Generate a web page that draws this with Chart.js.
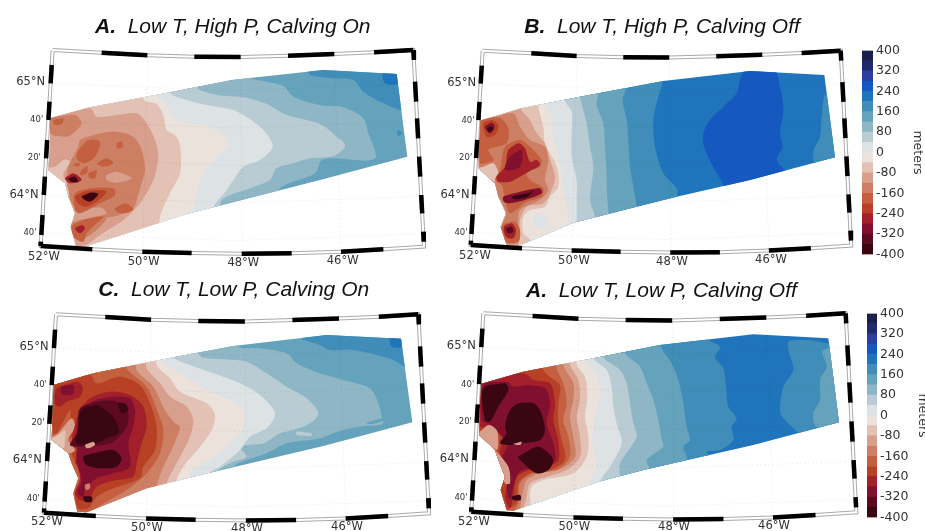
<!DOCTYPE html>
<html>
<head>
<meta charset="utf-8">
<script src="https://cdn.jsdelivr.net/npm/chart.js@4"></script>
<style>
  html, body { margin: 0; padding: 0; background: #fff; overflow: hidden; }
  body { width: 925px; height: 531px; position: relative; }
  canvas { position: absolute; filter: blur(0.5px); }
</style>
</head>
<body>
<canvas id="mapA" width="440" height="270" style="left:0;top:0"></canvas>
<canvas id="mapB" width="495" height="270" style="left:430px;top:0"></canvas>
<canvas id="mapC" width="440" height="261" style="left:0;top:270px"></canvas>
<canvas id="mapD" width="495" height="261" style="left:430px;top:270px"></canvas>
<canvas id="barTop" width="67" height="225" style="left:858px;top:40px"></canvas>
<canvas id="barBottom" width="67" height="225" style="left:863px;top:303px"></canvas>
<script>
// colour classes of the elevation change, 40 m wide, named by lower bound
var levelBounds = [-400, -360, -320, -280, -240, -200, -160, -120, -80, -40, 0, 40, 80, 120, 160, 200, 240, 280, 320, 360];
var levelColors = ['#3a0612', '#5c0a20', '#80102e', '#a3202b', '#b84125', '#c4603f', '#cd7f64', '#d8a08c', '#e3c1b4', '#ece2dc',
    '#dde2e5', '#b9ccd4', '#8fb6c5', '#65a3bd', '#3f8db8', '#1f74bb', '#1458c0', '#2a3f9e', '#1f2a6b', '#1a1f4d'];
var colorTicks = [-400, -320, -240, -160, -80, 0, 80, 160, 240, 320, 400];

var lonLabels = ['52°W', '50°W', '48°W', '46°W'];
var latLabels = ['65°N', "40'", "20'", '64°N', "40'"];

// closes a contour that runs from the north edge to the south edge around the west side
function west(p) {
    var lx = p[p.length - 2], ly = p[p.length - 1];
    return [p[0], 0, p[0], p[1] - 50].concat(p, [lx, ly + 50, lx, 900, 0, 900, 0, 0]);
}

// map units are a third of a km, measured from the panel corner
var domainA = [150,355, 270,322, 510,277, 695,240, 970,210, 1190,222, 1222,470, 960,540, 640,622, 560,642, 250,742, 228,738, 212,680, 225,640, 205,590, 195,550, 145,510, 150,430];
var layersA = [
    [120, [0,0, 1400,0, 1400,900, 0,900]],
    [160, [925,205, 1200,205, 1230,335, 1205,332, 1150,310, 1090,275, 1060,240, 1000,235, 930,225]],
    [160, [1192,390, 1207,398, 1195,408]],
    [200, [1150,215, 1195,215, 1198,250, 1155,250]],
    [80, west([745,230, 800,245, 850,258, 880,290, 960,315, 1030,322, 1090,355, 1105,400, 1128,470, 1100,482, 1010,475, 965,480, 945,520, 840,565])],
    [40, west([590,262, 650,285, 730,292, 800,312, 860,345, 960,372, 1010,410, 1036,437, 1000,468, 930,475, 880,490, 830,505, 810,540, 750,565, 665,600])],
    [0, west([508,278, 560,300, 620,315, 700,330, 750,358, 795,395, 818,440, 780,480, 730,500, 700,540, 680,570, 640,622])],
    [-40, west([470,285, 500,315, 520,350, 540,365, 610,375, 660,400, 685,430, 650,470, 620,500, 600,540, 580,625, 560,645])],
    [-80, west([432,300, 470,312, 490,345, 500,390, 530,410, 542,450, 540,520, 510,580, 480,650])],
    [-120, [100,340, 270,325, 290,350, 350,345, 410,340, 440,370, 465,420, 475,470, 460,540, 420,610, 370,660, 300,705, 255,735, 100,745]],
    [-80, [140,505, 165,500, 195,478, 210,485, 190,525, 215,570, 200,600, 222,640, 205,640, 190,560]],
    [-160, [240,420, 300,400, 350,395, 400,410, 425,450, 435,510, 425,550, 410,600, 400,625, 340,650, 285,650, 240,635, 215,610, 205,570, 200,545, 205,500, 235,440]],
    [-160, [215,670, 290,650, 320,655, 290,690, 250,715, 220,710]],
    [-160, [150,355, 225,345, 245,370, 225,395, 200,410, 150,400]],
    [-120, [320,525, 350,515, 395,535, 350,548, 320,540]],
    [-120, [235,635, 300,622, 320,640, 280,650]],
    [-200, [235,450, 265,420, 300,425, 285,470, 250,490, 230,475]],
    [-200, [290,490, 320,475, 340,490, 310,500]],
    [-200, [225,490, 240,490, 235,500, 220,495]],
    [-200, [245,510, 262,498, 260,520, 240,525]],
    [-200, [265,520, 290,510, 285,535, 270,535]],
    [-200, [350,430, 365,425, 368,440, 352,445]],
    [-200, [345,625, 375,610, 400,628, 375,640, 350,635]],
    [-200, [225,580, 270,565, 340,565, 345,585, 300,610, 240,640, 225,630]],
    [-200, [215,680, 250,660, 310,650, 290,670, 260,700, 250,725, 225,715]],
    [-200, [160,360, 190,355, 185,372, 165,375]],
    [-280, [195,535, 220,520, 245,540, 210,550]],
    [-400, [205,535, 225,530, 235,545, 215,545]],
    [-240, [225,590, 250,575, 300,570, 320,575, 290,605, 255,620, 235,610]],
    [-400, [245,590, 270,578, 295,582, 270,605]],
    [-280, [225,685, 245,675, 255,685, 240,700]]
];

var domainB = [150,362, 275,325, 450,290, 700,243, 960,213, 1183,225, 1215,472, 960,540, 740,590, 620,620, 430,668, 265,738, 230,735, 212,680, 228,640, 205,590, 195,550, 145,505];
var layersB = [
    [200, [0,0, 1400,0, 1400,900, 0,900]],
    [240, [950,205, 1030,205, 1050,260, 1060,330, 1050,400, 1058,440, 1040,480, 1070,520, 1070,600, 880,600, 880,555, 855,510, 822,440, 820,400, 840,360, 880,320, 920,280, 930,240]],
    [160, [1190,280, 1175,350, 1170,410, 1150,455, 1160,500, 1300,500, 1300,280]],
    [160, west([700,240, 685,290, 670,360, 675,440, 700,520, 740,565, 742,592])],
    [120, west([590,260, 578,300, 590,360, 595,420, 600,500, 610,560, 620,620])],
    [80, west([505,280, 500,315, 520,370, 525,440, 530,520, 530,560, 535,640])],
    [40, west([450,290, 460,330, 470,370, 480,440, 490,500, 480,600, 495,650])],
    [0, west([405,302, 425,335, 425,400, 425,470, 440,540, 440,600, 440,665])],
    [-40, west([350,320, 365,350, 365,400, 385,470, 400,560, 410,620, 415,670])],
    [-80, west([325,320, 340,380, 345,430, 380,500, 385,560, 360,590, 345,620, 300,630, 280,650, 280,700, 300,720])],
    [0, [310,655, 330,640, 355,655, 345,680, 315,680]],
    [-120, west([275,330, 300,360, 320,400, 345,430, 360,480, 375,530, 365,570, 340,610, 290,620, 270,660, 270,710, 265,735])],
    [-160, [200,350, 250,340, 270,380, 300,420, 345,440, 355,480, 345,540, 355,570, 330,600, 270,630, 265,680, 265,725, 225,730, 215,680, 228,640, 205,590, 150,510, 145,350]],
    [-80, [145,505, 160,500, 190,490, 205,520, 195,545]],
    [-200, [150,365, 205,352, 235,385, 230,430, 200,440, 175,450, 190,480, 165,490, 150,490]],
    [-200, [225,440, 270,420, 310,450, 335,480, 330,500, 290,520, 300,540, 340,565, 335,590, 290,605, 240,640, 225,600, 215,555, 195,540, 210,510]],
    [-200, [225,670, 255,665, 270,690, 265,725, 225,725, 212,690]],
    [-280, [235,450, 265,430, 285,445, 300,485, 320,480, 330,495, 295,515, 270,530, 240,545, 205,545, 200,530, 225,500]],
    [-320, [240,470, 275,450, 270,500, 225,510]],
    [-320, [220,590, 260,578, 330,565, 335,580, 285,600, 240,610, 222,605]],
    [-400, [245,590, 300,578, 310,572, 290,592, 255,598]],
    [-240, [160,370, 185,360, 205,375, 195,405, 170,410]],
    [-320, [165,380, 185,368, 195,382, 180,400]],
    [-400, [172,385, 185,378, 188,390, 175,395]],
    [-280, [222,680, 245,670, 258,690, 250,715, 228,710]],
    [-360, [228,685, 245,680, 250,695, 235,700]]
];

var domainC = [160,345, 280,310, 520,262, 700,228, 980,195, 1203,206, 1237,457, 970,528, 630,608, 440,655, 260,727, 232,725, 220,670, 235,625, 215,580, 205,550, 155,510];
var layersC = [
    [120, [0,0, 1400,0, 1400,900, 0,900]],
    [160, [905,205, 985,190, 1210,195, 1220,290, 1180,270, 1130,255, 1060,240, 990,240, 960,225]],
    [200, [1170,205, 1205,205, 1205,230, 1175,230]],
    [80, west([715,230, 780,235, 860,250, 890,280, 960,310, 1030,330, 1110,355, 1135,400, 1145,440, 1148,462, 1080,470, 1020,482, 960,505, 860,520, 800,550, 700,590])],
    [120, [1100,458, 1150,445, 1150,452, 1110,463]],
    [40, west([600,258, 670,268, 740,275, 800,310, 860,350, 920,385, 955,430, 930,460, 880,480, 840,490, 790,520, 720,530, 740,560, 700,575, 650,605])],
    [40, [890,485, 935,490, 935,497, 890,495]],
    [0, west([520,262, 570,285, 640,310, 720,340, 780,375, 825,430, 800,475, 750,500, 720,540, 660,590, 630,608])],
    [-40, west([490,275, 540,310, 590,340, 640,370, 700,395, 735,430, 725,480, 690,520, 640,560, 590,590, 570,615])],
    [-80, west([470,285, 510,325, 540,365, 620,400, 645,435, 635,480, 600,530, 550,590, 530,630])],
    [-120, west([440,295, 480,340, 510,380, 560,410, 580,450, 570,500, 540,560, 500,640])],
    [-160, west([410,300, 460,350, 495,420, 525,460, 540,470, 515,540, 490,590, 470,650])],
    [-200, west([380,295, 440,350, 475,430, 490,480, 480,550, 440,610, 380,660, 320,695, 280,725])],
    [-240, [270,315, 290,340, 360,320, 420,345, 450,400, 470,470, 465,540, 430,590, 420,625, 340,655, 290,680, 265,715, 235,715, 225,670, 240,625, 225,575, 215,550, 225,500, 190,510, 210,450, 210,420, 170,490, 160,490, 155,345]],
    [-120, [150,510, 175,490, 215,445, 225,470, 205,510, 225,540, 205,550]],
    [-80, [150,510, 175,495, 195,480, 195,510, 190,535]],
    [-280, [240,420, 270,385, 330,365, 390,375, 430,410, 440,470, 425,520, 410,580, 400,620, 350,630, 290,650, 265,690, 240,690, 225,670, 240,630, 235,590, 225,575, 245,540, 215,525]],
    [-280, [170,355, 230,335, 248,350, 240,380, 200,395, 180,410, 165,400]],
    [-320, [240,430, 275,395, 340,380, 390,385, 405,420, 400,470, 385,520, 390,590, 340,610, 290,625, 255,660, 250,680, 232,670, 245,630, 230,575, 230,540, 240,500]],
    [-320, [185,350, 220,345, 218,372, 185,372]],
    [-360, [240,415, 290,395, 350,395, 385,430, 375,480, 330,520, 240,530, 210,525, 230,490]],
    [-400, [245,420, 290,405, 315,420, 340,440, 355,470, 355,490, 320,505, 290,520, 240,525, 225,515, 235,480]],
    [-400, [250,560, 300,545, 340,540, 365,565, 350,590, 300,595, 260,585]],
    [-400, [355,400, 375,400, 385,420, 365,430]],
    [-400, [250,680, 275,680, 275,695, 255,695]],
    [-120, [255,525, 280,515, 285,525, 262,535]],
    [-160, [255,645, 268,640, 270,655, 258,660]]
];

var domainD = [152,342, 280,305, 490,265, 690,225, 970,193, 1195,205, 1227,457, 970,525, 640,600, 505,635, 250,722, 230,720, 212,660, 225,620, 205,570, 195,540, 148,495];
var layersD = [
    [200, [0,0, 1400,0, 1400,900, 0,900]],
    [160, [1075,215, 1130,210, 1190,220, 1300,230, 1300,500, 1130,500, 1060,445, 1050,420, 1060,350, 1090,300, 1078,250]],
    [120, [1180,240, 1190,290, 1170,330, 1170,390, 1150,430, 1160,470, 1300,470, 1300,240]],
    [160, west([830,205, 870,230, 855,262, 880,295, 888,350, 895,410, 920,445, 905,470, 910,510, 870,540, 830,545, 840,560])],
    [120, west([690,225, 725,280, 745,330, 760,400, 770,470, 780,510, 760,530, 770,560])],
    [80, west([585,250, 630,290, 650,340, 670,390, 685,450, 695,510, 700,530, 650,570, 660,600])],
    [40, west([520,262, 570,300, 590,340, 600,400, 610,460, 620,500, 570,580, 570,620])],
    [0, west([490,265, 530,300, 545,350, 550,410, 560,460, 575,520, 540,590, 510,635])],
    [-40, west([465,272, 495,310, 510,360, 500,420, 490,470, 488,520, 500,580, 480,640])],
    [-80, west([440,285, 465,320, 472,380, 465,440, 475,500, 470,560, 430,610, 340,630, 305,650, 300,690, 305,720])],
    [-120, west([420,285, 445,330, 450,390, 440,440, 450,500, 450,560, 410,600, 350,620, 300,640, 290,680, 280,720])],
    [-160, west([400,285, 430,340, 430,390, 420,440, 430,500, 435,560, 395,595, 330,610, 290,630, 280,660, 270,720])],
    [-200, west([380,295, 400,340, 410,400, 400,450, 415,500, 420,560, 380,600, 310,610, 270,640, 265,700, 250,730])],
    [-240, west([340,300, 360,320, 390,345, 385,400, 385,460, 395,510, 405,570, 360,600, 300,610, 265,640, 260,700, 235,720])],
    [-280, [280,310, 310,330, 360,340, 375,400, 370,450, 385,510, 385,570, 350,590, 300,600, 260,620, 250,680, 240,715, 225,680, 235,620, 215,565, 210,540, 225,500, 190,480, 170,470, 145,470, 140,340]],
    [-320, [160,345, 230,335, 250,350, 290,345, 345,355, 360,400, 350,460, 370,520, 375,570, 340,585, 270,605, 250,650, 240,690, 230,650, 240,610, 215,570, 235,520, 215,500, 190,470, 170,460, 155,450]],
    [-400, [160,355, 225,340, 235,360, 205,410, 180,455, 165,450]],
    [-400, [240,420, 265,400, 310,400, 330,420, 345,480, 330,510, 280,520, 240,525, 210,520, 230,490, 225,470]],
    [-400, [265,560, 320,530, 345,540, 370,570, 355,600, 320,610, 270,570]],
    [-400, [245,680, 270,675, 272,690, 250,690]],
    [-120, [145,495, 175,465, 200,480, 205,510, 200,540]],
    [-120, [195,540, 235,590, 240,640, 225,640, 205,575]],
    [-120, [250,522, 275,515, 270,525]],
    [160, [1145,215, 1155,215, 1155,222, 1145,222]]
];

// frame of a panel, written for panel A and fitted to the others
var frameTop = [158,150, 305,158, 442,166, 583,170, 722,171, 864,167, 1003,162, 1122,157, 1240,150];
var frameBottom = [122,738, 277,748, 427,755, 575,759, 725,761, 875,760, 1023,755, 1150,748, 1272,740];
var leftFence = [195,250, 305,360, 420,475, 530,585, 645,705, 725,738];
var rightFence = [150,180, 245,305, 355,415, 470,530, 585,640, 695,725];
var graticule = [
    [443,170, 428,755], [722,172, 727,760], [1003,165, 1023,755],
    [155,250, 700,272, 1245,252], [148,362, 700,384, 1250,364], [143,475, 700,497, 1255,477],
    [137,587, 700,609, 1262,589], [130,700, 700,722, 1268,702]
];

function pts(flat, fit) {
    var out = [];
    for (var i = 0; i < flat.length; i += 2) {
        out.push(fit ? { x: fit.x + (flat[i] - 158) * fit.sx, y: fit.y + (flat[i + 1] - 150) * fit.sy }
                     : { x: flat[i], y: flat[i + 1] });
    }
    return out;
}

// repeats the first two vertices so the smoothed outline closes without a cusp
function closed(p) {
    return p.concat([p[0], p[1]]);
}

function colorOf(level) {
    return levelColors[levelBounds.indexOf(level)];
}

function lineSet(data, color, width, dash) {
    return {
        data: data, showLine: true, pointRadius: 0, fill: false, borderColor: color,
        borderWidth: width, borderDash: dash || [], borderCapStyle: 'butt', tension: 0
    };
}

function frameSets(fit) {
    var sets = [];
    var i;
    // black pieces first in the list, so they are drawn last
    for (i = 2; i < frameTop.length - 1; i += 4) {
        sets.push(lineSet(pts(frameTop.slice(i, i + 4), fit), '#000', 4.5));
    }
    for (i = 0; i < frameBottom.length - 2; i += 4) {
        sets.push(lineSet(pts(frameBottom.slice(i, i + 4), fit), '#000', 4.5));
    }
    leftFence.forEach(function (v, k) {
        if (k % 2) return;
        var y0 = leftFence[k], y1 = leftFence[k + 1];
        sets.push(lineSet(pts([158 - 36 * (y0 - 150) / 588, y0, 158 - 36 * (y1 - 150) / 588, y1], fit), '#000', 4.5));
    });
    rightFence.forEach(function (v, k) {
        if (k % 2) return;
        var y0 = rightFence[k], y1 = rightFence[k + 1];
        sets.push(lineSet(pts([1240 + 32 * (y0 - 150) / 590, y0, 1240 + 32 * (y1 - 150) / 590, y1], fit), '#000', 4.5));
    });
    var around = frameTop.concat(frameBottom.slice().reverse().reduce(function (a, v, k, r) {
        if (k % 2 === 0) a.push(r[k + 1], v);
        return a;
    }, []), [158, 150]);
    sets.push(lineSet(pts(around, fit), '#fff', 2));
    sets.push(lineSet(pts(around, fit), '#aaa', 4));
    graticule.forEach(function (g) {
        sets.push(lineSet(pts(g, fit), 'rgba(0,0,0,0.1)', 1, [1, 3]));
    });
    return sets;
}

// contours are clipped to the model domain, and the clip ends after the last contour
var domainClip = {
    id: 'domainClip',
    beforeDatasetsDraw: function (chart, args, opts) {
        var p = pts(opts.domain);
        var ctx = chart.ctx;
        ctx.save();
        ctx.beginPath();
        p.forEach(function (q, i) {
            var x = chart.scales.x.getPixelForValue(q.x);
            var y = chart.scales.y.getPixelForValue(q.y);
            if (i === 0) ctx.moveTo(x, y); else ctx.lineTo(x, y);
        });
        ctx.closePath();
        ctx.clip();
    },
    afterDatasetDraw: function (chart, args, opts) {
        if (args.index === opts.lastContour) chart.ctx.restore();
    }
};

var mapText = {
    id: 'mapText',
    afterDraw: function (chart, args, opts) {
        var ctx = chart.ctx;
        var X = function (v) { return chart.scales.x.getPixelForValue(v); };
        var Y = function (v) { return chart.scales.y.getPixelForValue(v); };
        ctx.save();
        ctx.fillStyle = '#333';
        ctx.textAlign = 'center';
        ctx.textBaseline = 'middle';
        ctx.font = '11.5px "DejaVu Sans"';
        lonLabels.forEach(function (t, i) {
            ctx.fillText(t, X(opts.lonAt[i * 2]), Y(opts.lonAt[i * 2 + 1]));
        });
        latLabels.forEach(function (t, i) {
            ctx.font = (t.length > 3 ? '11.5px' : '8.5px') + ' "DejaVu Sans"';
            ctx.fillText(t, X(opts.latAt[i * 2]), Y(opts.latAt[i * 2 + 1]));
        });
        ctx.fillStyle = '#111';
        ctx.textAlign = 'left';
        ctx.textBaseline = 'alphabetic';
        ctx.font = 'italic bold 21px "Liberation Sans"';
        ctx.fillText(opts.letter, X(opts.titleAt[0]), Y(opts.titleAt[1]));
        var gap = ctx.measureText(opts.letter + '  ').width;
        ctx.font = 'italic 21px "Liberation Sans"';
        ctx.fillText(opts.title, X(opts.titleAt[0]) + gap, Y(opts.titleAt[1]));
        ctx.restore();
    }
};

function createMap(id, letter, title, domain, layers, fit, lonAt, latAt, titleAt) {
    var canvas = document.getElementById(id);
    var frame = frameSets(fit);
    var contours = layers.map(function (l) {
        return {
            data: closed(pts(l[1])), showLine: true, pointRadius: 0, borderWidth: 0, tension: 0.3,
            fill: 'shape', backgroundColor: colorOf(l[0])
        };
    }).reverse();

    new Chart(canvas, {
        type: 'scatter',
        data: { datasets: frame.concat(contours) },
        plugins: [domainClip, mapText],
        options: {
            responsive: false,
            animation: false,
            layout: { padding: 0 },
            scales: {
                x: { type: 'linear', display: false, min: 0, max: canvas.width * 3 },
                y: { type: 'linear', display: false, min: 0, max: canvas.height * 3, reverse: true }
            },
            plugins: {
                legend: { display: false },
                tooltip: { enabled: false },
                domainClip: { domain: domain, lastContour: frame.length },
                mapText: { letter: letter, title: title, lonAt: lonAt, latAt: latAt, titleAt: titleAt }
            }
        }
    });
}

function createColorbar(id, top, height, left, barWidth) {
    var canvas = document.getElementById(id);
    new Chart(canvas, {
        type: 'bar',
        data: {
            labels: ['meters'],
            datasets: levelBounds.map(function (low, i) {
                return {
                    data: [[low, low + 40]], backgroundColor: levelColors[i], borderWidth: 0,
                    barPercentage: 1, categoryPercentage: 1, grouped: false
                };
            })
        },
        options: {
            responsive: false,
            animation: false,
            layout: { padding: { top: top, bottom: canvas.height - top - height, left: left } },
            scales: {
                x: { display: false },
                y: {
                    position: 'right', min: -400, max: 400,
                    afterBuildTicks: function (s) {
                        s.ticks = colorTicks.map(function (v) { return { value: v }; });
                    },
                    afterFit: function (s) { s.width = canvas.width - left - barWidth; },
                    grid: { display: false, drawTicks: false },
                    border: { display: false },
                    ticks: {
                        autoSkip: false, padding: 3, color: '#333',
                        font: { family: 'DejaVu Sans', size: 12.5 }
                    },
                    title: {
                        display: true, text: 'meters', color: '#333', padding: 0,
                        font: { family: 'DejaVu Sans', size: 12.5 }
                    }
                }
            },
            plugins: { legend: { display: false }, tooltip: { enabled: false } }
        }
    });
}

createMap('mapA', 'A.', 'Low T, High P, Calving On', domainA, layersA, { x: 158, y: 150, sx: 1, sy: 1 },
    [132,770, 431,785, 730,788, 1028,782], [92,245, 110,360, 103,472, 72,585, 90,697], [285,98]);
createMap('mapB', 'B.', 'Low T, High P, Calving Off', domainB, layersB, { x: 158, y: 152, sx: 0.9926, sy: 0.991 },
    [135,767, 432,783, 726,787, 1023,780], [95,248, 114,362, 107,473, 75,585, 93,697], [283,98]);
createMap('mapC', 'C.', 'Low T, Low P, Calving On', domainC, layersC, { x: 168, y: 133, sx: 1.0046, sy: 1.012 },
    [141,757, 441,773, 741,777, 1041,770], [102,230, 121,345, 114,458, 82,570, 100,685], [295,78]);
createMap('mapD', 'A.', 'Low T, Low P, Calving Off', domainD, layersD, { x: 160, y: 130, sx: 1.0046, sy: 1.012 },
    [132,755, 433,770, 732,772, 1032,768], [94,228, 113,343, 106,456, 73,568, 93,682], [288,80]);

createColorbar('barTop', 10, 205, 4, 11);
createColorbar('barBottom', 10, 207, 4, 10);
</script>
</body>
</html>
